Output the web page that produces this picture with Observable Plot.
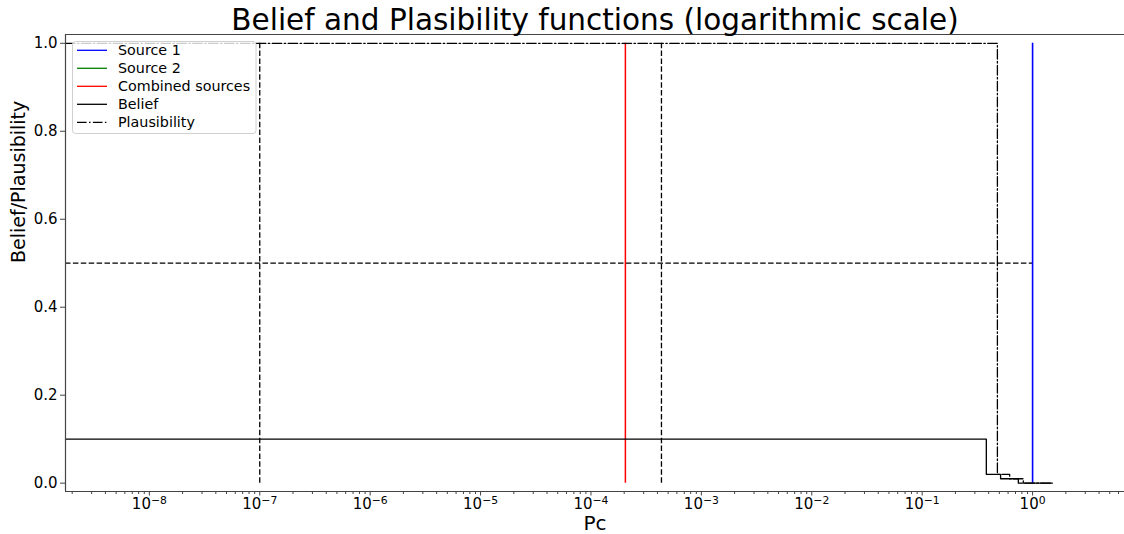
<!DOCTYPE html>
<html><head><meta charset="utf-8">
<script src="https://cdn.jsdelivr.net/npm/d3@7"></script>
<script src="https://cdn.jsdelivr.net/npm/@observablehq/plot@0.6"></script>
<style>
html,body{margin:0;padding:0;background:#fff;}
#chart{width:1124px;height:534px;overflow:hidden;}
</style>
</head><body><div id="chart"></div>
<script>
// ---- data ----
const title = "Belief and Plasibility functions (logarithmic scale)";
const xLabel = "Pc";
const yLabel = "Belief/Plausibility";
const xDomain = [1.74e-9, 6.8];
const yDomain = [-0.019, 1.02];
const xTicks = [1e-8, 1e-7, 1e-6, 1e-5, 1e-4, 1e-3, 1e-2, 1e-1, 1];
const xTickExponents = ["−8", "−7", "−6", "−5", "−4", "−3", "−2", "−1", "0"];
const yTicks = [0, 0.2, 0.4, 0.6, 0.8, 1.0];
const source1X = [1.0];
const combinedX = [2.05e-4];
const dashedVX = [1e-7, 4.35e-4];
const dashedHY = [0.5];
const dashedHEnd = 1.0;
const beliefX = [xDomain[0], 0.381, 0.513, 0.743, 1.51];
const beliefY = [0.1, 0.02, 0.01, 0.0, 0.0];
const plausX = [xDomain[0], 0.48, 0.62, 0.824, 1.51];
const plausY = [1.0, 0.02, 0.01, 0.0, 0.0];
const legendLabels = ["Source 1", "Source 2", "Combined sources", "Belief", "Plausibility"];
const legendColors = ["#0000ff", "#008000", "#ff0000", "#000000", "#000000"];
const legendDash = [null, null, null, null, "9.6,2.4,1.5,2.4"];

// ---- derived ----
const expOf = new Map(xTicks.map((t, i) => [t, xTickExponents[i]]));
const fmtX = d => "10|" + expOf.get(d);
const minorTicks = [];
for (let e = -9; e <= 0; e++) for (let m = 2; m <= 9; m++) {
  const v = m * Math.pow(10, e);
  if (v > xDomain[0] && v < xDomain[1]) minorTicks.push(v);
}
const belief = beliefX.map((x, i) => ({x, y: beliefY[i]}));
const plaus = plausX.map((x, i) => ({x, y: plausY[i]}));
const dash = "5.5,2.4";
const dashdot = "9.6,2.4,1.5,2.4";
const lw = 1.3;

const chart = Plot.plot({
  width: 1124, height: 534,
  marginLeft: 65, marginRight: 0, marginTop: 34, marginBottom: 43,
  style: {fontFamily: "DejaVu Sans", fontSize: "15px", color: "#000", background: "#fff", overflow: "visible"},
  x: {type: "log", domain: xDomain},
  y: {domain: yDomain},
  marks: [
    Plot.ruleX(dashedVX, {y1: 0, y2: 1, stroke: "#000", strokeWidth: lw, strokeDasharray: dash}),
    Plot.ruleY(dashedHY, {x1: xDomain[0], x2: dashedHEnd, stroke: "#000", strokeWidth: lw, strokeDasharray: dash}),
    Plot.ruleX(combinedX, {y1: 0, y2: 1, stroke: "#ff0000", strokeWidth: 1.5}),
    Plot.ruleX(source1X, {y1: 0, y2: 1, stroke: "#0000ff", strokeWidth: 1.6}),
    Plot.line(belief, {x: "x", y: "y", curve: "step-after", stroke: "#000", strokeWidth: lw}),
    Plot.line(plaus, {x: "x", y: "y", curve: "step-after", stroke: "#000", strokeWidth: lw, strokeDasharray: dashdot}),
    Plot.ruleX([xDomain[0]], {stroke: "#444", strokeWidth: 1.2}),
    Plot.ruleY([yDomain[0]], {stroke: "#444", strokeWidth: 1.2}),
    Plot.ruleY([yDomain[1]], {stroke: "#444", strokeWidth: 1.2}),
    Plot.axisX({ticks: minorTicks, tickSize: 3, tickFormat: () => "", label: null, stroke: "#444"}),
    Plot.axisX({ticks: xTicks, tickSize: 4.5, tickPadding: 2, tickFormat: fmtX, label: null, fontSize: 15, stroke: "#444"}),
    Plot.axisY({ticks: yTicks, tickSize: 5, tickPadding: 3, tickFormat: d => d.toFixed(1), label: null, fontSize: 15, stroke: "#444"}),
    Plot.text([title], {frameAnchor: "top", lineAnchor: "bottom", dy: -5, fontSize: 29.5, fill: "#000"}),
    Plot.text([xLabel], {frameAnchor: "bottom", lineAnchor: "bottom", dy: 38, fontSize: 20, fill: "#000"}),
    Plot.text([yLabel], {frameAnchor: "left", rotate: -90, dx: -47, fontSize: 19, fill: "#000"})
  ]
});
document.getElementById("chart").appendChild(chart);

const svg = d3.select(chart);
// superscript exponents on log tick labels
svg.selectAll("text").each(function () {
  const m = (this.textContent || "").match(/^10\|(.+)$/);
  if (m) {
    const el = d3.select(this);
    el.text(null);
    el.append("tspan").text("10");
    el.append("tspan").attr("dy", "-0.45em").attr("font-size", "0.72em").text(m[1]);
  }
});

// legend
const lg = svg.append("g").attr("font-family", "DejaVu Sans").attr("font-size", 14.3).attr("text-anchor", "start");
lg.append("rect").attr("x", 72.5).attr("y", 41.5).attr("width", 183.5).attr("height", 92)
  .attr("rx", 3).attr("fill", "#fff").attr("fill-opacity", 0.8).attr("stroke", "#d0d0d0");
const rowY = [50.3, 68.3, 86.3, 104.3, 122.3];
legendLabels.forEach((lab, i) => {
  lg.append("line").attr("x1", 77).attr("x2", 107).attr("y1", rowY[i]).attr("y2", rowY[i])
    .attr("stroke", legendColors[i]).attr("stroke-width", lw)
    .attr("stroke-dasharray", legendDash[i]);
  lg.append("text").attr("x", 118).attr("y", rowY[i]).attr("dy", "0.35em").attr("fill", "#000")
    .attr("text-anchor", "start").text(lab);
});
</script>
</body></html>
